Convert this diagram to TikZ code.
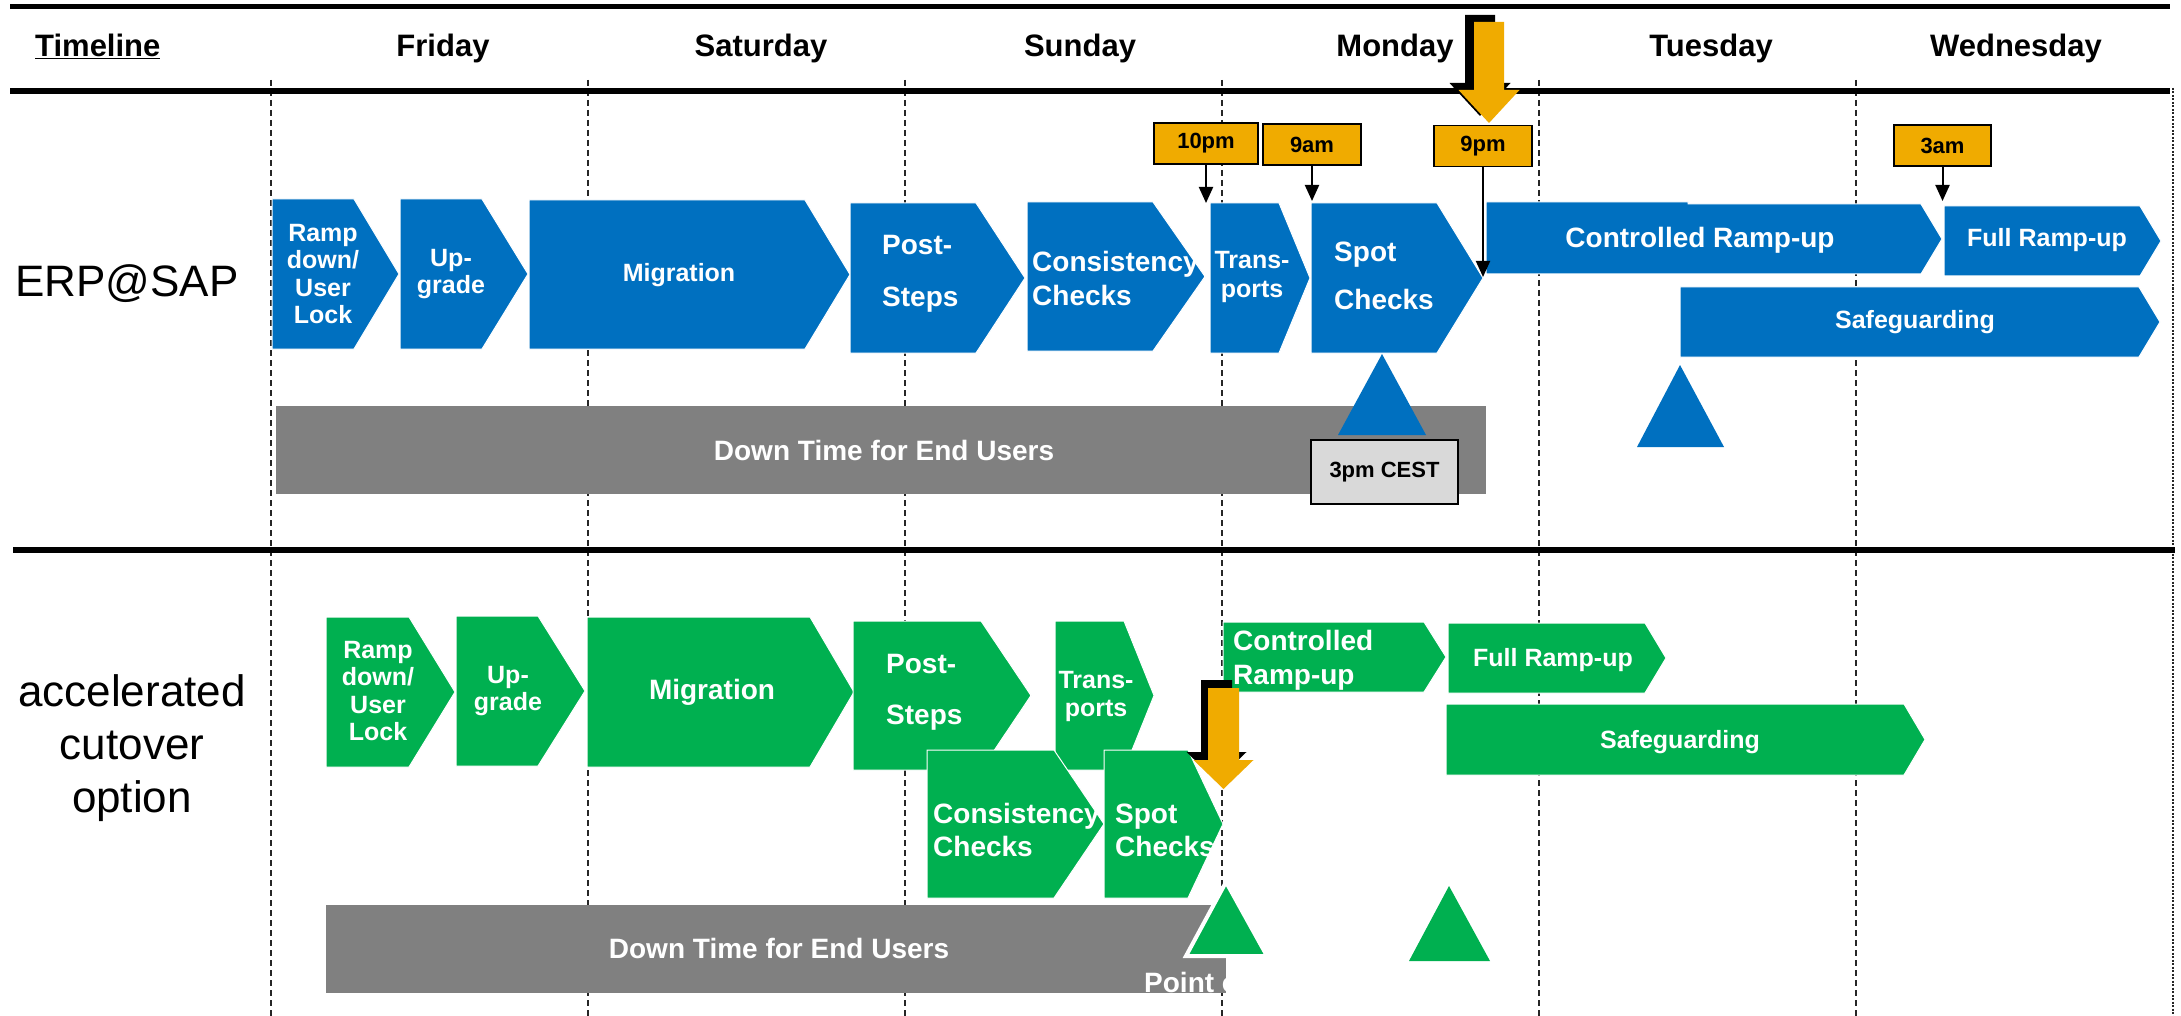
\documentclass[tikz,border=0pt]{standalone}
\usepackage{fontspec}
\setmainfont{Liberation Sans}
\usetikzlibrary{arrows.meta}
\definecolor{sapblue}{HTML}{0070C0}
\definecolor{sapgreen}{HTML}{00B050}
\definecolor{sapgold}{HTML}{F0AB00}
\definecolor{bargray}{HTML}{808080}
\definecolor{lightbox}{HTML}{D9D9D9}
\newcommand{\penta}[6]{\filldraw[#6] (#1,#2) -- (#3,#2) -- (#4,{(#2+#5)/2}) -- (#3,#5) -- (#1,#5) -- cycle;}
\newcommand{\blockarrow}[7]{\fill[#7] (#1-#5,#2) -- (#1+#5,#2) -- (#1+#5,#3) -- (#1+#6,#3) -- (#1,#4) -- (#1-#6,#3) -- (#1-#5,#3) -- cycle;}
\begin{document}
\begin{tikzpicture}[x=1pt,y=-1pt,
  daysep/.style={line width=1.5pt, dash pattern=on 6pt off 4pt, black!85},
  erpshape/.style={fill=sapblue, draw=white, line width=1pt},
  accshape/.style={fill=sapgreen, draw=white, line width=1pt},
  hdr/.style={font=\bfseries\fontsize{31}{37}\selectfont, anchor=base, inner sep=0pt},
  side/.style={font=\fontsize{44}{53}\selectfont, inner sep=0pt, align=center},
  wsmall/.style={text=white, font=\bfseries\fontsize{25}{27.5}\selectfont, inner sep=0pt, align=center},
  wbig/.style={text=white, font=\bfseries\fontsize{28}{34}\selectfont, inner sep=0pt, align=left},
  timebox/.style={fill=sapgold, draw=black, line width=1.5pt, font=\bfseries\fontsize{22}{26}\selectfont, inner sep=0pt, minimum height=41pt},
  tarrow/.style={line width=2pt, -{Triangle[length=16pt,width=14pt]}},
]
\useasboundingbox (0,0) rectangle (2181,1016);
\fill[white] (0,0) rectangle (2181,1016);

% day separators
\foreach \x in {271,588,905,1222,1539,1856}
  \draw[daysep] (\x,80) -- (\x,1016);
\draw[line width=1.5pt, dash pattern=on 2pt off 1.5pt, black!85] (2173,88) -- (2173,1016);

% horizontal rules
\draw[line width=5pt] (10,7) -- (2170,7);
\draw[line width=6pt] (10,91) -- (2170,91);
\draw[line width=6pt] (13,550) -- (2175,550);

% header
\node[hdr, anchor=base west] (tl) at (35,57) {\underline{Timeline}};
\node[hdr] (fri) at (443,57) {Friday};
\node[hdr] (sat) at (761,57) {Saturday};
\node[hdr] (sun) at (1080,57) {Sunday};
\node[hdr] (mon) at (1395,57) {Monday};
\node[hdr] (tue) at (1711,57) {Tuesday};
\node[hdr] (wed) at (2016,57) {Wednesday};

% side labels
\node[side, anchor=base west] (erp) at (15,297) {ERP@SAP};
\node[side] (acc) at (132,748) {accelerated\\cutover\\option};

% ===== ERP row =====
\fill[bargray] (276,406) rectangle (1486,494);
\node[wbig, align=center] (dt1) at (884,450) {Down Time for End Users};

\penta{272}{199}{354}{399}{349}{erpshape}
\penta{400}{199}{482}{528}{349}{erpshape}
\penta{529}{200}{805}{850}{349}{erpshape}
\penta{850}{203}{976}{1025}{353}{erpshape}
\penta{1027}{202}{1153}{1205}{351}{erpshape}
\penta{1210}{203}{1279}{1310}{353}{erpshape}
\penta{1311}{203}{1437}{1483}{353}{erpshape}
\filldraw[erpshape] (1486,202) -- (1688,202) -- (1688,204) -- (1921,204) -- (1942,239) -- (1921,274) -- (1486,274) -- cycle;
\penta{1944}{206}{2140}{2161}{276}{erpshape}
\penta{1680}{287}{2139}{2160}{357}{erpshape}

\node[wsmall] (e1) at (323,274) {Ramp\\down/\\User\\Lock};
\node[wsmall] (e2) at (451,274) {Up-\\grade};
\node[wsmall] (e3) at (679,275) {Migration};
\node[wbig, anchor=west, font=\bfseries\fontsize{28}{52}\selectfont] (e4) at (882,274) {Post-\\Steps};
\node[wbig, anchor=west] (e5) at (1032,278) {Consistency\\Checks};
\node[wsmall, font=\bfseries\fontsize{25}{29}\selectfont] (e6) at (1252,277) {Trans-\\ports};
\node[wbig, anchor=west, font=\bfseries\fontsize{28}{48}\selectfont] (e7) at (1334,276) {Spot\\Checks};
\node[wbig] (e8) at (1700,240) {Controlled Ramp-up};
\node[wsmall] (e9) at (2047,240) {Full Ramp-up};
\node[wsmall] (e10) at (1915,322) {Safeguarding};

\fill[sapblue] (1382,354) -- (1426,435) -- (1338,435) -- cycle;
\fill[sapblue] (1680,365) -- (1724,447) -- (1637,447) -- cycle;

\node[draw=black, fill=lightbox, line width=1.5pt, minimum width=147pt, minimum height=64pt, inner sep=0pt, font=\bfseries\fontsize{22}{26}\selectfont] (cest) at (1384.5,472) {3pm CEST};

% time markers
\node[timebox, minimum width=104pt] (t1) at (1206,143.5) {10pm};
\node[timebox, minimum width=98pt] (t2) at (1312,144.5) {9am};
\node[timebox, minimum width=98pt] (t3) at (1483,146) {9pm};
\node[timebox, minimum width=97pt] (t4) at (1942.5,145.5) {3am};
\coordinate (t1e) at (1206,203);
\coordinate (t2e) at (1312,201);
\coordinate (t3e) at (1483,277);
\coordinate (t4e) at (1942.5,201);
\draw[tarrow] (t1.south) -- (t1e);
\draw[tarrow] (t2.south) -- (t2e);
\draw[tarrow] (t3.south) -- (t3e);
\draw[tarrow] (t4.south) -- (t4e);

% big arrow ERP
\begin{scope}[shift={(-9,-7)}]
\blockarrow{1489}{22}{90}{123}{15}{30.5}{black}
\end{scope}
\blockarrow{1489}{22}{90}{123}{15}{30.5}{sapgold}

% ===== accelerated row =====
\fill[bargray] (326,905) rectangle (1226,993);
\node[wbig, align=center] (dt2) at (779,948) {Down Time for End Users};
\begin{scope}
\clip (326,905) rectangle (1226,993);
\node[wbig, anchor=base west] (pt) at (1144,992) {Point o};
\end{scope}

\penta{326}{617}{409}{455}{767}{accshape}
\penta{456}{616}{538}{585}{766}{accshape}
\penta{587}{617}{810}{854}{767}{accshape}
\penta{853}{621}{981}{1031}{770}{accshape}
\penta{1055}{621}{1124}{1154}{770}{accshape}
\penta{927}{750}{1054}{1104}{898}{accshape}
\penta{1104}{750}{1188}{1223}{898}{accshape}
\penta{1223}{622}{1424}{1446}{692}{accshape}
\penta{1448}{623}{1645}{1666}{693}{accshape}
\penta{1446}{704}{1904}{1925}{775}{accshape}

\node[wsmall] (g1) at (378,691) {Ramp\\down/\\User\\Lock};
\node[wsmall] (g2) at (508,691) {Up-\\grade};
\node[wbig, align=center] (g3) at (712,692) {Migration};
\node[wbig, anchor=west, font=\bfseries\fontsize{28}{51}\selectfont] (g4) at (886,692) {Post-\\Steps};
\node[wsmall, font=\bfseries\fontsize{25}{28}\selectfont] (g5) at (1096,696) {Trans-\\ports};
\node[wbig, anchor=west, font=\bfseries\fontsize{28}{33}\selectfont] (g6) at (933,830) {Consistency\\Checks};
\node[wbig, anchor=west, font=\bfseries\fontsize{28}{33}\selectfont] (g7) at (1115,830) {Spot\\Checks};
\node[wbig, anchor=west] (g8) at (1233,660) {Controlled\\Ramp-up};
\node[wsmall] (g9) at (1553,660) {Full Ramp-up};
\node[wsmall] (g10) at (1680,742) {Safeguarding};

\filldraw[fill=sapgreen, draw=white, line width=4pt, line join=miter] (1226,882) -- (1267,956) -- (1186,956) -- cycle;
\fill[sapgreen] (1449,886) -- (1490,961) -- (1409,961) -- cycle;

% big arrow accelerated
\begin{scope}[shift={(-7,-8)}]
\blockarrow{1223.5}{688}{760}{789}{15.5}{30}{black}
\end{scope}
\blockarrow{1223.5}{688}{760}{789}{15.5}{30}{sapgold}
\end{tikzpicture}
\end{document}
